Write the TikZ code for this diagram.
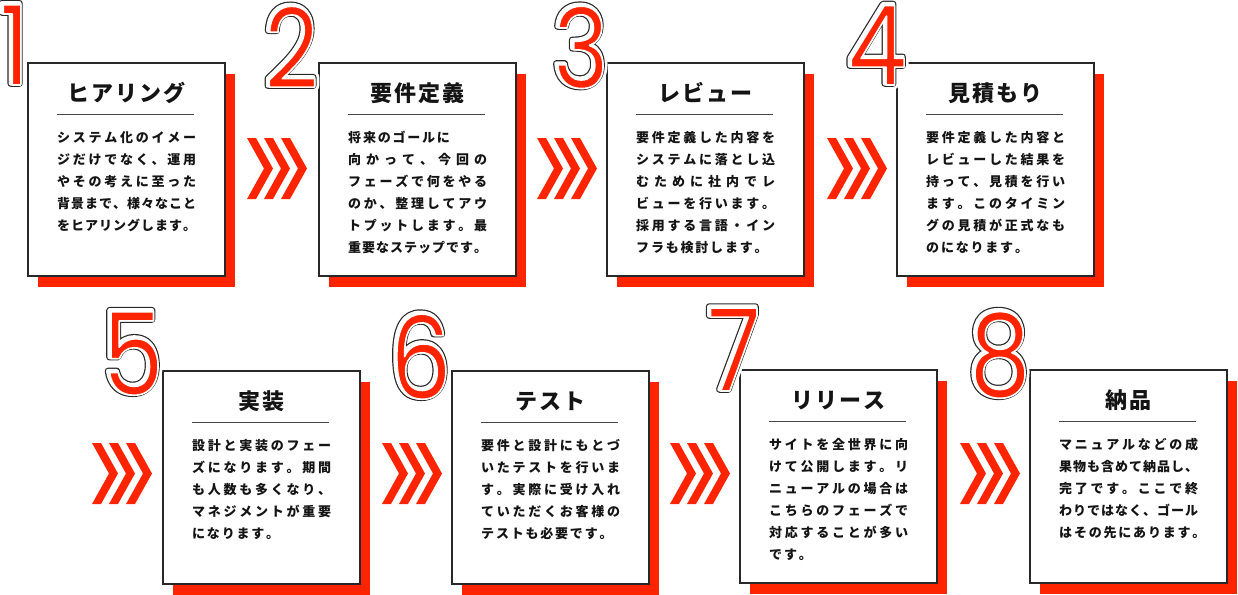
\documentclass[tikz,border=0pt]{standalone}
\usepackage{fontspec}
\usetikzlibrary{backgrounds}
\newfontfamily\jp{Noto Sans CJK JP}
\newfontfamily\numfont{Poppins}[FakeStretch=0.85]
\definecolor{numred}{RGB}{255,36,0}
\definecolor{ink}{RGB}{20,20,20}
\definecolor{rulegray}{RGB}{70,70,70}
\definecolor{boxline}{RGB}{40,40,40}

\newdimen\jls \jls=1.8pt
\def\jsA#1{#1\jsB}
\def\jsB#1{\ifx\relax#1\else\hfil#1\expandafter\jsB\fi}
\newcommand\jsp[1]{\hbox to 139pt{\jsA#1\relax}}
\def\jnA#1{#1\jnB}
\def\jnB#1{\ifx\relax#1\else\kern\jls#1\expandafter\jnB\fi}
\newcommand\jna[1]{\hbox{\jnA#1\relax}}

\newcommand\numlayer[3]{\special{pdf:literal direct #1 Tr #2 w 1 j 1 J}#3\special{pdf:literal direct 0 Tr 1 w 0 j 0 J}}
\newcommand\bignum[1]{%
 \rlap{\kern-1.5pt\raisebox{1.5pt}{\color{white}\numlayer{2}{12}{#1}}}%
 \rlap{\kern-1.5pt\raisebox{1.5pt}{\color{boxline}\numlayer{2}{6.6}{#1}}}%
 \rlap{\kern-1.5pt\raisebox{1.5pt}{\color{white}\numlayer{2}{4.2}{#1}}}%
 {\color{numred}\special{pdf:literal direct 1 1 1 RG}\numlayer{2}{1.6}{#1}}}

\newcommand\titlefont{\jp\bfseries\fontsize{22}{26}\selectfont\color{ink}\jls=2pt\relax}
\newcommand\bodyfont{\jp\bfseries\fontsize{13}{22}\selectfont\color{ink}\jls=1.8pt\relax}

\tikzset{
 stepbox/.style={draw=boxline, line width=1.3pt, fill=white, minimum width=197pt, minimum height=213pt, inner sep=0pt, outer sep=0pt},
 shadowfill/.style={fill=numred},
 rulestyle/.style={draw=rulegray, line width=1pt},
 chevfill/.style={fill=numred},
}

\newcommand\stepcard[5]{%
 \node[stepbox, anchor=north west] (#1) at (#2,#3) {};
 \begin{scope}[on background layer]
  \fill[shadowfill] ([shift={(10,11)}]#1.north west) rectangle ([shift={(10,11)}]#1.south east);
 \end{scope}
 \draw[rulestyle] ([shift={(29,51)}]#1.north west) -- ([shift={(-31,51)}]#1.north east);
 \node[anchor=base, inner sep=0pt] (#1h) at ([shift={(0,38)}]#1.north) {\titlefont\jna{#4}};
 \node[anchor=base west, inner sep=0pt] (#1t) at ([shift={(29,79)}]#1.north west) {\bodyfont\vtop{\baselineskip=22pt\lineskiplimit=-50pt #5}};
}
\newcommand\stepnum[5]{%
 \node[anchor=base east, inner sep=0pt] (#1) at (#2,#3) {\numfont\fontsize{#4}{#4}\selectfont\bignum{#5}};
}
\newcommand\chev[3]{%
 \foreach \k in {0,17,34} {\fill[chevfill] ({#2+\k},#3) -- ++(9,0) -- ++(17,30.5) -- ++(-17,30.5) -- ++(-9,0) -- ++(17,-30.5) -- cycle;}
 \coordinate (#1) at (#2,#3);
}

\begin{document}
\begin{tikzpicture}[x=1pt,y=-1pt]
\useasboundingbox (0,0) rectangle (1238,594);

\stepcard{b1}{28}{63}{ヒアリング}{%
\jsp{システム化のイメー}
\jsp{ジだけでなく、運用}
\jsp{やその考えに至った}
\jsp{背景まで、様々なこと}
\jsp{をヒアリングします。}}

\stepcard{b2}{319}{63}{要件定義}{%
\jna{将来のゴールに}
\jsp{向かって、今回の}
\jsp{フェーズで何をやる}
\jsp{のか、整理してアウ}
\jsp{トプットします。最}
\jsp{重要なステップです。}}

\stepcard{b3}{607}{63}{レビュー}{%
\jsp{要件定義した内容を}
\jsp{システムに落とし込}
\jsp{むために社内でレ}
\jsp{ビューを行います。}
\jsp{採用する言語・イン}
\jna{フラも検討します。}}

\stepcard{b4}{897}{63}{見積もり}{%
\jsp{要件定義した内容と}
\jsp{レビューした結果を}
\jsp{持って、見積を行い}
\jsp{ます。このタイミン}
\jsp{グの見積が正式なも}
\jna{のになります。}}

\stepcard{b5}{163}{371}{実装}{%
\jsp{設計と実装のフェー}
\jsp{ズになります。期間}
\jsp{も人数も多くなり、}
\jsp{マネジメントが重要}
\jna{になります。}}

\stepcard{b6}{452}{371}{テスト}{%
\jsp{要件と設計にもとづ}
\jsp{いたテストを行いま}
\jsp{す。実際に受け入れ}
\jsp{ていただくお客様の}
\jna{テストも必要です。}}

\stepcard{b7}{740}{370}{リリース}{%
\jsp{サイトを全世界に向}
\jsp{けて公開します。リ}
\jsp{ニューアルの場合は}
\jsp{こちらのフェーズで}
\jsp{対応することが多い}
\jna{です。}}

\stepcard{b8}{1030}{370}{納品}{%
\jsp{マニュアルなどの成}
\jsp{果物も含めて納品し、}
\jsp{完了です。ここで終}
\jsp{わりではなく、ゴール}
\jna{はその先にあります。}}

\stepnum{n1}{30}{85}{111}{1}
\stepnum{n2}{319}{88}{111}{2}
\stepnum{n3}{609}{88}{111}{3}
\stepnum{n4}{907}{85}{111}{4}
\stepnum{n5}{164}{395}{115}{5}
\stepnum{n6}{452}{399}{115}{6}
\stepnum{n7}{761}{391}{115}{7}
\stepnum{n8}{1031}{396}{115}{8}

\chev{c12}{247}{138}
\chev{c23}{537}{138}
\chev{c34}{827}{138}
\chev{c45}{92}{443}
\chev{c56}{382}{443}
\chev{c67}{670}{443}
\chev{c78}{960}{443}
\end{tikzpicture}
\end{document}
